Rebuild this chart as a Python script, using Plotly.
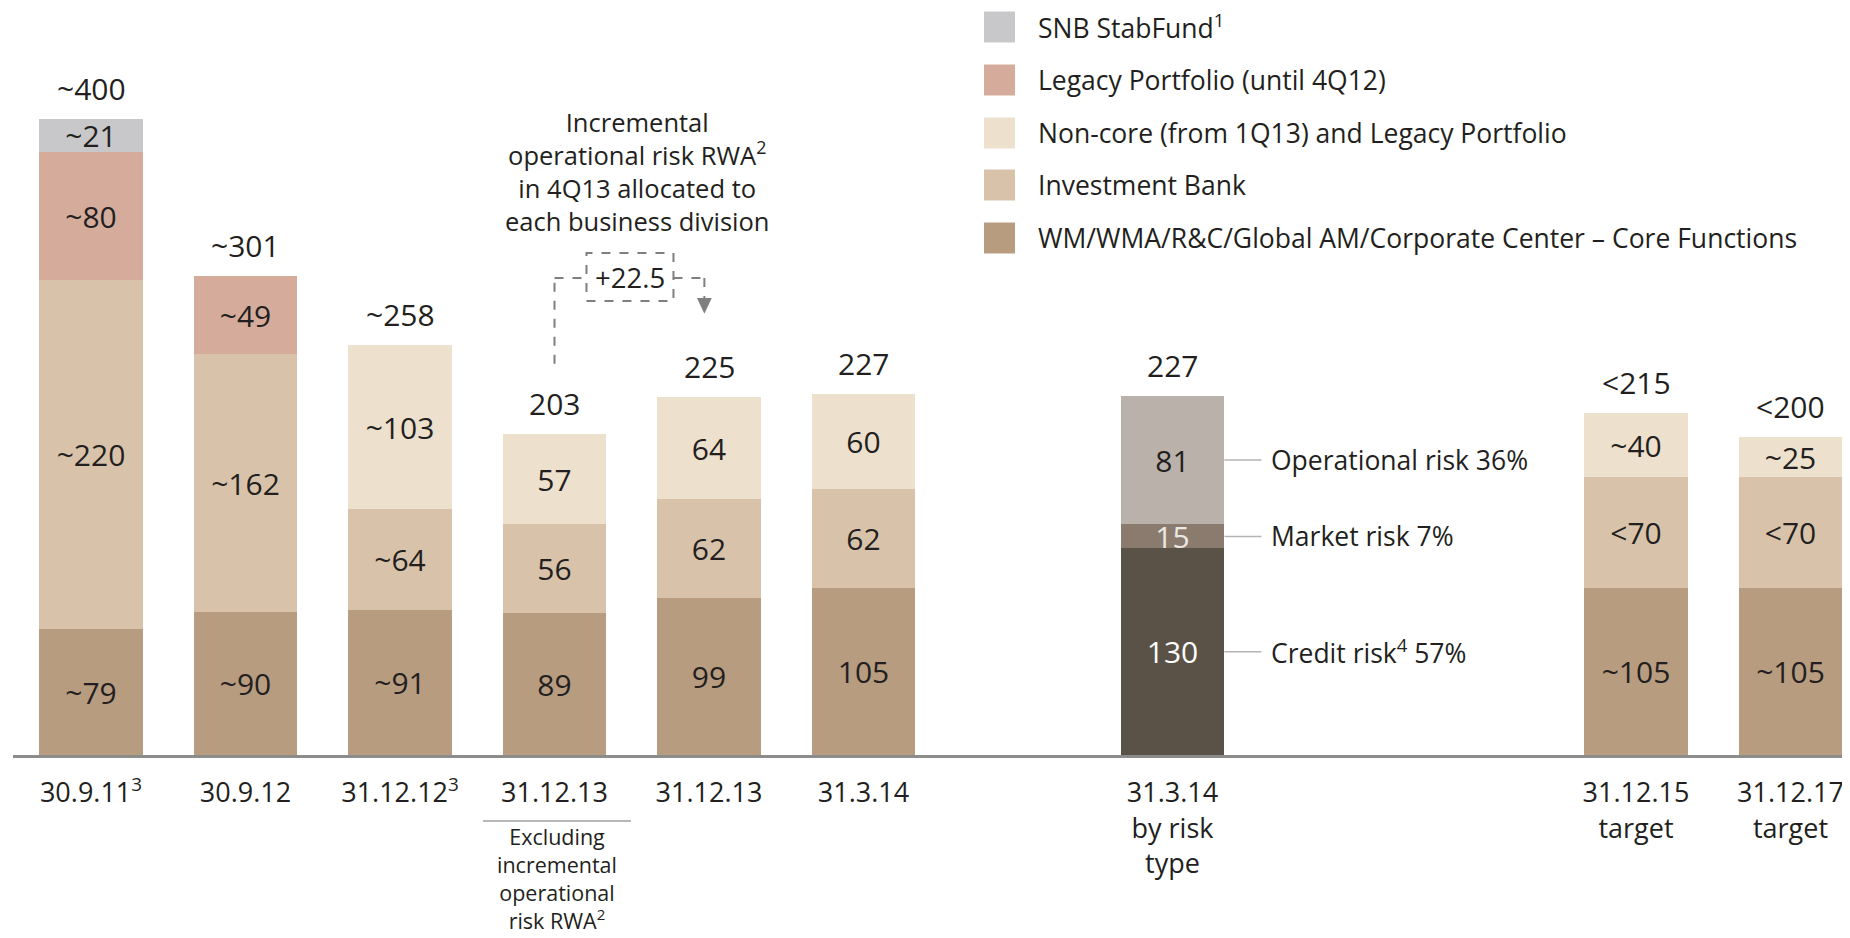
import plotly.graph_objects as go

# ---------------- data ----------------
positions = [0, 1, 2, 3, 4, 5, 7, 10, 11]
tick_labels = ["30.9.11<sup>3</sup>", "30.9.12", "31.12.12<sup>3</sup>", "31.12.13", "31.12.13",
               "31.3.14", "31.3.14<br>by risk<br>type", "31.12.15<br>target", "31.12.17<br>target"]

div_x = [0, 1, 2, 3, 4, 5, 10, 11]
core_vals = [79, 90, 91, 89, 99, 105, 105, 105]
core_text = ["~79", "~90", "~91", "89", "99", "105", "~105", "~105"]
ib_vals = [220, 162, 64, 56, 62, 62, 70, 70]
ib_text = ["~220", "~162", "~64", "56", "62", "62", "<70", "<70"]
noncore_vals = [None, None, 103, 57, 64, 60, 40, 25]
noncore_text = ["", "", "~103", "57", "64", "60", "~40", "~25"]
legacy_vals = [80, 49, None, None, None, None, None, None]
legacy_text = ["~80", "~49", "", "", "", "", "", ""]
snb_vals = [21, None, None, None, None, None, None, None]
snb_text = ["~21", "", "", "", "", "", "", ""]

risk_x = [7]
credit_vals = [130]
market_vals = [15]
oper_vals = [81]
risk_names = ["Credit risk<sup>4</sup> 57%", "Market risk 7%", "Operational risk 36%"]

total_labels = ["~400", "~301", "~258", "203", "225", "227", "227", "<215", "<200"]

legend_names = ["SNB StabFund<sup>1</sup>", "Legacy Portfolio (until 4Q12)",
                "Non-core (from 1Q13) and Legacy Portfolio", "Investment Bank",
                "WM/WMA/R&C/Global AM/Corporate Center – Core Functions"]

increment_value = "+22.5"
increment_note = ["Incremental", "operational risk RWA<sup>2</sup>", "in 4Q13 allocated to",
                  "each business division"]
exclude_note = ["Excluding", "incremental", "operational", "risk RWA<sup>2</sup>"]

# ---------------- style ----------------
FONT = "Open Sans"
TXT = "#231f20"
C_SNB, C_LEG, C_NC, C_IB, C_CORE = "#c8c8ca", "#d5ac9b", "#ede0cd", "#d8c3aa", "#b89c80"
C_OP, C_MKT, C_CR = "#bab2aa", "#8b7b6e", "#5b5247"
BW = 0.672
VAL_SIZE = 30

# page offset (browser body margin of 8px)
OFF = 8
FIG_W, FIG_H = 1850 - OFF, 938 - OFF
ML = 13 - OFF
BASE = 755 - OFF          # baseline in figure pixels
PLOT_W = FIG_W - ML
PLOT_H = BASE
PX_PER_UNIT = 1.59

def px_x(px):  # page px -> paper
    return (px - 13) / PLOT_W

def px_y(py):  # page px -> paper
    return (755 - py) / PLOT_H

fig = go.Figure()

def add_bar(x, y, text, color, tcolor=TXT):
    xs, ys, ts = [], [], []
    for a, b, c in zip(x, y, text):
        if b is not None:
            xs.append(a); ys.append(b); ts.append(c)
    fig.add_trace(go.Bar(
        x=xs, y=ys, text=ts, marker=dict(color=color, line=dict(width=0)),
        width=BW, textposition="inside", insidetextanchor="middle", textangle=0,
        constraintext="none", textfont=dict(family=FONT, size=VAL_SIZE, color=tcolor),
        hoverinfo="skip", showlegend=False, cliponaxis=False))

add_bar(div_x, core_vals, core_text, C_CORE)
add_bar(div_x, ib_vals, ib_text, C_IB)
add_bar(div_x, noncore_vals, noncore_text, C_NC)
add_bar(div_x, legacy_vals, legacy_text, C_LEG)
add_bar(div_x, snb_vals, snb_text, C_SNB)
add_bar(risk_x, credit_vals, ["130"], C_CR, "#ffffff")
add_bar(risk_x, market_vals, ["15"], C_MKT, "#ece7e1")
add_bar(risk_x, oper_vals, ["81"], C_OP, TXT)

# stack totals
totals = []
for p in positions:
    if p in div_x:
        j = div_x.index(p)
        s = sum(v or 0 for v in (core_vals[j], ib_vals[j], noncore_vals[j], legacy_vals[j], snb_vals[j]))
    else:
        j = risk_x.index(p)
        s = credit_vals[j] + market_vals[j] + oper_vals[j]
    totals.append(s)

annotations = []
for p, s, lab in zip(positions, totals, total_labels):
    annotations.append(dict(x=p, y=s, text=lab, showarrow=False, xanchor="center", yanchor="bottom",
                            yshift=8, font=dict(family=FONT, size=VAL_SIZE, color=TXT)))

shapes = []
# risk-type callouts
rx = risk_x[0]
cum = 0
for v, name in zip([credit_vals[0], market_vals[0], oper_vals[0]], risk_names):
    mid = cum + v / 2
    cum += v
    shapes.append(dict(type="line", xref="x", yref="y", x0=rx + BW / 2, x1=rx + BW / 2 + 0.24,
                       y0=mid, y1=mid, line=dict(color="#b5b5b5", width=1.5)))
    annotations.append(dict(x=rx + BW / 2 + 0.29, y=mid, text=name, showarrow=False, xanchor="left",
                            yanchor="middle", font=dict(family=FONT, size=26.5, color=TXT)))

# incremental operational risk connector
dash = dict(color="#7f7f7f", width=2, dash="dash")
shapes += [
    dict(type="line", xref="x", yref="y", x0=3, x1=3, y0=246, y1=300, line=dash),
    dict(type="line", xref="x", yref="y", x0=3, x1=3.207, y0=300, y1=300, line=dash),
    dict(type="rect", xref="x", yref="y", x0=3.207, x1=3.770, y0=285.5, y1=315.7, line=dash),
    dict(type="line", xref="x", yref="y", x0=3.770, x1=3.97, y0=300, y1=300, line=dash),
    dict(type="line", xref="x", yref="y", x0=3.97, x1=3.97, y0=300, y1=287, line=dash),
    dict(type="path", xref="x", yref="y", path="M 3.922,287.5 L 4.018,287.5 L 3.97,277.5 Z",
         fillcolor="#7f7f7f", line=dict(width=0)),
]
annotations.append(dict(x=3.489, y=300.5, text=increment_value, showarrow=False, xanchor="center",
                        yanchor="middle", font=dict(family=FONT, size=27.5, color=TXT)))
annotations.append(dict(xref="paper", yref="paper", x=px_x(637), y=px_y(171),
                        text="<br>".join(increment_note), showarrow=False, xanchor="center",
                        yanchor="middle", align="center", font=dict(family=FONT, size=25.5, color=TXT)))

# note under 31.12.13 (excluding)
shapes.append(dict(type="line", xref="paper", yref="paper", x0=px_x(483), x1=px_x(631),
                   y0=px_y(821), y1=px_y(821), line=dict(color="#a0a0a0", width=1.5)))
annotations.append(dict(xref="paper", yref="paper", x=px_x(557), y=px_y(878),
                        text="<br>".join(exclude_note), showarrow=False, xanchor="center",
                        yanchor="middle", align="center", font=dict(family=FONT, size=21.5, color=TXT)))

# legend (manual)
leg_colors = [C_SNB, C_LEG, C_NC, C_IB, C_CORE]
leg_rows = [27, 80, 133, 185, 238]
for name, col, cy in zip(legend_names, leg_colors, leg_rows):
    shapes.append(dict(type="rect", xref="paper", yref="paper", x0=px_x(984), x1=px_x(1015),
                       y0=px_y(cy + 15.5), y1=px_y(cy - 15.5), fillcolor=col, line=dict(width=0)))
    annotations.append(dict(xref="paper", yref="paper", x=px_x(1036), y=px_y(cy), text=name,
                            showarrow=False, xanchor="left", yanchor="middle",
                            font=dict(family=FONT, size=26.5, color=TXT)))

fig.update_layout(
    width=FIG_W, height=FIG_H,
    margin=dict(l=ML, r=0, t=0, b=FIG_H - BASE, pad=0),
    paper_bgcolor="white", plot_bgcolor="white",
    barmode="stack", bargap=0,
    showlegend=False,
    xaxis=dict(range=[-(91 - 13) / 154.5, (1850 - 91) / 154.5], tickvals=positions, ticktext=tick_labels,
               showline=True, linecolor="#8c8c8c", linewidth=3, showgrid=False, zeroline=False,
               ticks="", ticklabelstandoff=12, tickfont=dict(family=FONT, size=27, color=TXT),
               fixedrange=True),
    yaxis=dict(range=[0, PLOT_H / PX_PER_UNIT], visible=False, fixedrange=True),
    shapes=shapes, annotations=annotations,
)

fig.write_html("out.html")
